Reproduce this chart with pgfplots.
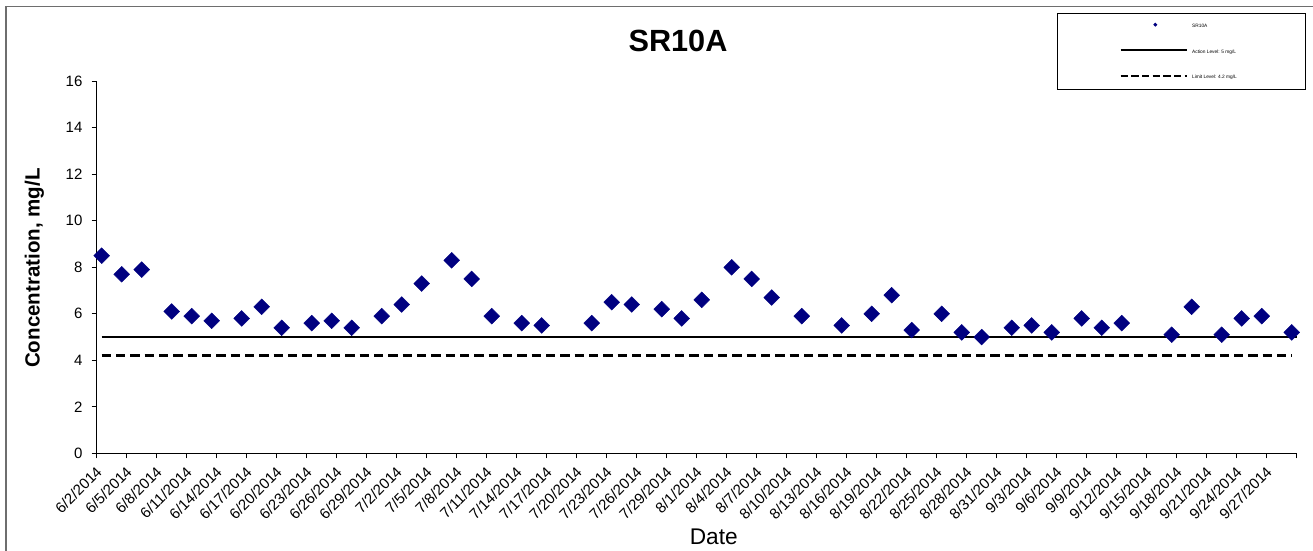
\documentclass[border=0pt]{standalone}
\usepackage{fontspec}
\setmainfont{Liberation Sans}
\usepackage{pgfplots}
\pgfplotsset{compat=1.18}
\definecolor{navymark}{RGB}{0,0,128}
\definecolor{framegray}{RGB}{110,110,110}

\begin{document}
\begin{tikzpicture}
\useasboundingbox (-72.525pt,-72.525pt) rectangle (912.225pt,339.975pt);
\draw[framegray, line width=1.2pt] (-68pt,-100pt) -- (-68pt,334.95pt) -- (1000pt,334.95pt);
\begin{axis}[
  at={(0,0)}, anchor=south west,
  scale only axis, width=900pt, height=279pt,
  xmin=0, xmax=120, ymin=0, ymax=16,
  axis lines*=left,
  axis line style={black, line width=0.8pt},
  clip=false,
  xtick={0,3,...,120},
  xticklabels={6/2/2014,6/5/2014,6/8/2014,6/11/2014,6/14/2014,6/17/2014,6/20/2014,6/23/2014,6/26/2014,6/29/2014,7/2/2014,7/5/2014,7/8/2014,7/11/2014,7/14/2014,7/17/2014,7/20/2014,7/23/2014,7/26/2014,7/29/2014,8/1/2014,8/4/2014,8/7/2014,8/10/2014,8/13/2014,8/16/2014,8/19/2014,8/22/2014,8/25/2014,8/28/2014,8/31/2014,9/3/2014,9/6/2014,9/9/2014,9/12/2014,9/15/2014,9/18/2014,9/21/2014,9/24/2014,9/27/2014,{}},
  ytick={0,2,...,16},
  tick align=outside, major tick length=3.75pt,
  tick style={black, line width=0.8pt},
  /pgf/number format/assume math mode=true,
  x tick label style={font=\fontsize{11.25}{13}\selectfont, inner sep=0pt, xshift=1.9pt, yshift=-8.15pt, rotate=45, anchor=east},
  y tick label style={font=\fontsize{11.25}{13}\selectfont, inner sep=0pt, anchor=east, xshift=-6.75pt},
  title={SR10A},
  title style={at={(axis description cs:0.4844,1.0868)}, anchor=center, inner sep=0pt, font=\bfseries\fontsize{23}{27}\selectfont},
  xlabel={Date},
  xlabel style={at={(axis description cs:0.5142,-0.2242)}, anchor=center, inner sep=0pt, font=\fontsize{17}{20}\selectfont},
  ylabel={Concentration, mg/L},
  ylabel style={at={(axis description cs:-0.0519,0.4981)}, anchor=center, rotate=0, inner sep=0pt, font=\bfseries\fontsize{15.4}{18}\selectfont},
  reverse legend,
  legend style={at={(axis description cs:0.80025,1.1836)}, anchor=north west, draw=black, line width=0.75pt, fill=white,
    inner xsep=46.5pt, inner ysep=7pt, font=\fontsize{3.6}{4.3}\selectfont,
    nodes={inner sep=0pt, text height=2.8pt, text depth=0.8pt},
    cells={anchor=west}, column sep=2.75pt, row sep=15.4pt},
]
\addplot[black, line width=1.75pt, dash pattern=on 7pt off 3.75pt, no marks,
  legend image code/.code={\draw[black, line width=1.75pt, dash pattern=on 5.5pt off 2.5pt] (0pt,1.1pt) -- (50pt,1.1pt);}]
  coordinates {(0.5,4.2) (119.5,4.2)};
\addlegendentry{\makebox[38.25pt][l]{Limit Level: 4.2 mg/L}}
\addplot[black, line width=1.75pt, no marks,
  legend image code/.code={\draw[black, line width=1.75pt] (0pt,1.1pt) -- (50pt,1.1pt);}]
  coordinates {(0.5,5) (120,5)};
\addlegendentry{\makebox[38.25pt][l]{Action Level: 5 mg/L}}
\addplot[only marks, mark=square*, mark size=4.2pt, mark options={rotate=45, fill=navymark, draw=navymark, line width=0.3pt},
  legend image code/.code={\fill[navymark] (25pt,1.1pt) -- (26pt,2.1pt) -- (27pt,1.1pt) -- (26pt,0.1pt) -- cycle;}]
  coordinates {
(0.5,8.5) (2.5,7.7) (4.5,7.9) (7.5,6.1) (9.5,5.9) (11.5,5.7) (14.5,5.8) (16.5,6.3)
(18.5,5.4) (21.5,5.6) (23.5,5.7) (25.5,5.4) (28.5,5.9) (30.5,6.4) (32.5,7.3) (35.5,8.3)
(37.5,7.5) (39.5,5.9) (42.5,5.6) (44.5,5.5) (49.5,5.6) (51.5,6.5) (53.5,6.4) (56.5,6.2)
(58.5,5.8) (60.5,6.6) (63.5,8.0) (65.5,7.5) (67.5,6.7) (70.5,5.9) (74.5,5.5) (77.5,6.0)
(79.5,6.8) (81.5,5.3) (84.5,6.0) (86.5,5.2) (88.5,5.0) (91.5,5.4) (93.5,5.5) (95.5,5.2)
(98.5,5.8) (100.5,5.4) (102.5,5.6) (107.5,5.1) (109.5,6.3) (112.5,5.1) (114.5,5.8) (116.5,5.9)
(119.5,5.2)
  };
\addlegendentry{\makebox[38.25pt][l]{SR10A}}
\end{axis}
\end{tikzpicture}
\end{document}
